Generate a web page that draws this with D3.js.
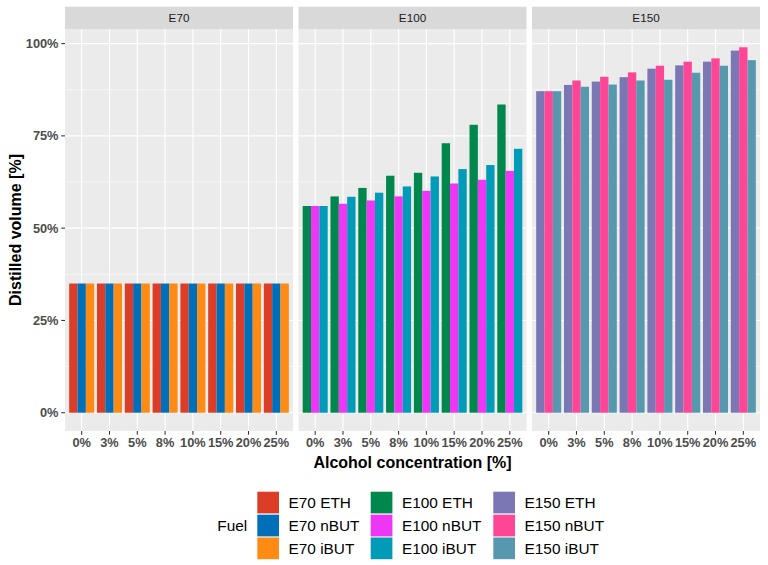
<!DOCTYPE html>
<html>
<head>
<meta charset="utf-8">
<script src="https://cdn.jsdelivr.net/npm/d3@7"></script>
<style>
  body { margin: 0; background: #fff; }
  svg { font-family: "Liberation Sans", Arial, sans-serif; }
</style>
</head>
<body>
<svg id="chart" width="768" height="565"></svg>
<script>
// ---- data ----
const categories = ["0%", "3%", "5%", "8%", "10%", "15%", "20%", "25%"];
const panels = ["E70", "E100", "E150"];
const additives = ["ETH", "nBUT", "iBUT"];

const e70ETH  = [35, 35, 35, 35, 35, 35, 35, 35];
const e70nBUT = [35, 35, 35, 35, 35, 35, 35, 35];
const e70iBUT = [35, 35, 35, 35, 35, 35, 35, 35];

const e100ETH  = [56, 58.6, 60.9, 64.2, 65.0, 73.0, 78.0, 83.5];
const e100nBUT = [56, 56.6, 57.5, 58.6, 60.1, 62.1, 63.1, 65.5];
const e100iBUT = [56, 58.5, 59.6, 61.3, 64.0, 66.0, 67.1, 71.5];

const e150ETH  = [87.1, 88.8, 89.7, 90.9, 93.2, 94.1, 95.1, 98.1];
const e150nBUT = [87.1, 90.0, 91.0, 92.2, 94.0, 95.1, 96.0, 99.0];
const e150iBUT = [87.1, 88.3, 88.9, 90.0, 90.2, 92.1, 94.0, 95.5];

const yTicks = [0, 25, 50, 75, 100];
const yMinorTicks = [12.5, 37.5, 62.5, 87.5];

const seriesByPanel = {
  E70:  [e70ETH, e70nBUT, e70iBUT],
  E100: [e100ETH, e100nBUT, e100iBUT],
  E150: [e150ETH, e150nBUT, e150iBUT]
};
const colors = {
  "E70 ETH": "#DC3D27", "E70 nBUT": "#006FB9", "E70 iBUT": "#FF8A14",
  "E100 ETH": "#00874D", "E100 nBUT": "#EE36F5", "E100 iBUT": "#009BB6",
  "E150 ETH": "#7B76B4", "E150 nBUT": "#FF4596", "E150 iBUT": "#5699AF"
};

// ---- layout ----
const svg = d3.select("#chart");
const plotLeft = 65, plotRight = 760, gap = 5.5;
const panelW = (plotRight - plotLeft - 2 * gap) / 3;
const stripTop = 6.7, panelTop = 29, panelBottom = 431;

const allVals = [].concat(...panels.map(p => [].concat(...seriesByPanel[p])));
const yMax = d3.max(allVals);
const y = d3.scaleLinear()
  .domain([-0.05 * yMax, yMax * 1.05])
  .range([panelBottom, panelTop]);

panels.forEach((p, pi) => {
  const x0 = plotLeft + pi * (panelW + gap);
  const x = d3.scaleLinear().domain([-0.6, categories.length - 1 + 0.6]).range([x0, x0 + panelW]);
  const g = svg.append("g");

  g.append("rect").attr("x", x0).attr("y", panelTop).attr("width", panelW)
    .attr("height", panelBottom - panelTop).attr("fill", "#EBEBEB");
  yMinorTicks.forEach(t => g.append("line").attr("x1", x0).attr("x2", x0 + panelW)
    .attr("y1", y(t)).attr("y2", y(t)).attr("stroke", "#fff").attr("stroke-width", 0.55));
  yTicks.forEach(t => g.append("line").attr("x1", x0).attr("x2", x0 + panelW)
    .attr("y1", y(t)).attr("y2", y(t)).attr("stroke", "#fff").attr("stroke-width", 1.1));
  categories.forEach((c, i) => g.append("line").attr("x1", x(i)).attr("x2", x(i))
    .attr("y1", panelTop).attr("y2", panelBottom).attr("stroke", "#fff").attr("stroke-width", 1.1));

  g.append("rect").attr("x", x0).attr("y", stripTop).attr("width", panelW)
    .attr("height", panelTop - stripTop).attr("fill", "#D9D9D9");
  g.append("text").attr("x", x0 + panelW / 2).attr("y", (stripTop + panelTop) / 2)
    .attr("dy", "0.36em").attr("text-anchor", "middle").attr("font-size", 11.7)
    .attr("fill", "#1A1A1A").text(p);

  const sub = 0.9 / additives.length;
  seriesByPanel[p].forEach((vals, si) => {
    const key = p + " " + additives[si];
    g.selectAll(null).data(vals).enter().append("rect")
      .attr("x", (d, i) => x(i - 0.45 + si * sub))
      .attr("width", (d, i) => x(i - 0.45 + (si + 1) * sub) - x(i - 0.45 + si * sub))
      .attr("y", d => y(d))
      .attr("height", d => y(0) - y(d))
      .attr("fill", colors[key]);
  });

  const xa = g.append("g");
  categories.forEach((c, i) => {
    xa.append("line").attr("x1", x(i)).attr("x2", x(i)).attr("y1", panelBottom)
      .attr("y2", panelBottom + 3.7).attr("stroke", "#333").attr("stroke-width", 1.07);
    xa.append("text").attr("x", x(i)).attr("y", 447.3).attr("text-anchor", "middle")
      .attr("font-size", 12.8).attr("font-weight", "bold").attr("fill", "#4D4D4D").text(c);
  });
});

const ya = svg.append("g");
yTicks.forEach(t => {
  ya.append("line").attr("x1", plotLeft - 3.7).attr("x2", plotLeft).attr("y1", y(t)).attr("y2", y(t))
    .attr("stroke", "#333").attr("stroke-width", 1.07);
  ya.append("text").attr("x", plotLeft - 6.5).attr("y", y(t)).attr("dy", "0.36em")
    .attr("text-anchor", "end").attr("font-size", 12.8).attr("font-weight", "bold")
    .attr("fill", "#4D4D4D").text(t + "%");
});

svg.append("text").attr("x", plotLeft + (plotRight - plotLeft) / 2).attr("y", 467.5)
  .attr("text-anchor", "middle").attr("font-size", 16).attr("font-weight", "bold")
  .attr("fill", "#000").text("Alcohol concentration [%]");
svg.append("text").attr("transform", `translate(20.5,${(panelTop + panelBottom) / 2}) rotate(-90)`)
  .attr("text-anchor", "middle").attr("font-size", 16).attr("font-weight", "bold")
  .attr("fill", "#000").text("Distilled volume [%]");

const lg = svg.append("g");
const colX = [257.3, 370.7, 493.3];
const rowY = [491.7, 514.7, 537.5];
const keySize = 21.7;
lg.append("text").attr("x", 217.3).attr("y", rowY[1] + keySize / 2).attr("dy", "0.36em")
  .attr("font-size", 15.4).attr("fill", "#000").text("Fuel");
panels.forEach((p, ci) => {
  additives.forEach((a, ri) => {
    const key = p + " " + a;
    lg.append("rect").attr("x", colX[ci]).attr("y", rowY[ri]).attr("width", keySize)
      .attr("height", keySize).attr("fill", colors[key]);
    lg.append("text").attr("x", colX[ci] + keySize + 9.5).attr("y", rowY[ri] + keySize / 2)
      .attr("dy", "0.36em").attr("font-size", 15.4).attr("fill", "#000").text(key);
  });
});
</script>
</body>
</html>
